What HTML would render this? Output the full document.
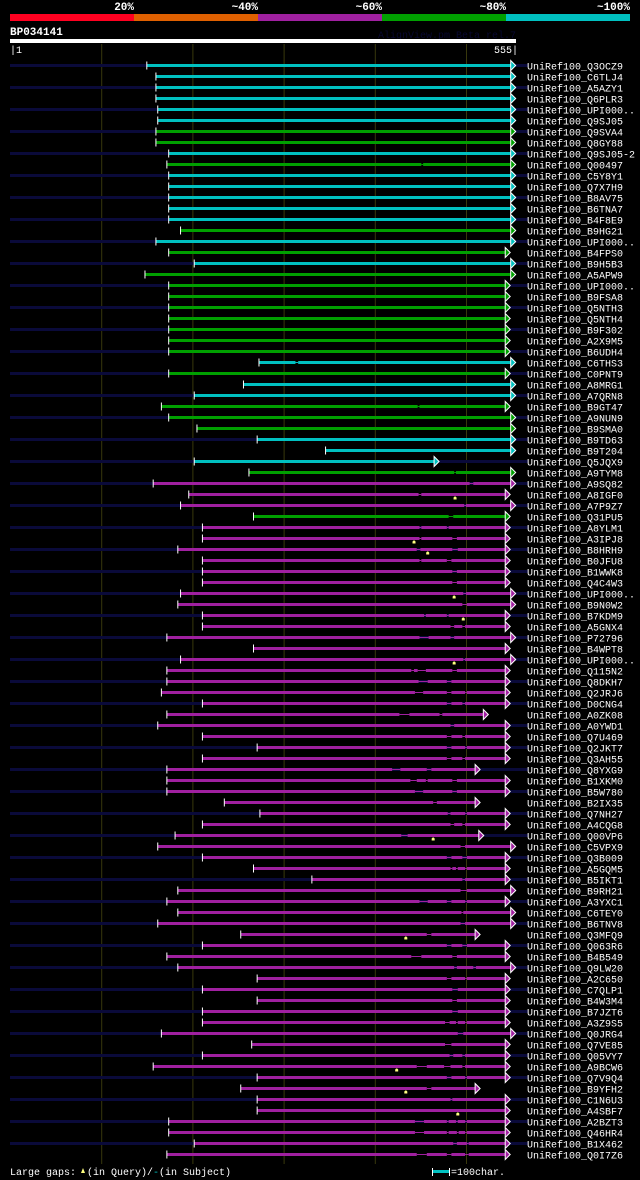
<!DOCTYPE html>
<html><head><meta charset="utf-8">
<style>
html,body{margin:0;padding:0;background:#000;}
svg{display:block;}
text{font-family:"Liberation Mono","DejaVu Sans Mono",monospace;}
</style></head>
<body>
<svg id="chart" width="640" height="1180" viewBox="0 0 640 1180" xmlns="http://www.w3.org/2000/svg">
<rect x="0" y="0" width="640" height="1180" fill="#000"/>
<g>
<rect x="10" y="14" width="124" height="7" fill="#ff0020"/>
<rect x="134" y="14" width="124" height="7" fill="#e06000"/>
<rect x="258" y="14" width="124" height="7" fill="#a020a0"/>
<rect x="382" y="14" width="124" height="7" fill="#00a000"/>
<rect x="506" y="14" width="124" height="7" fill="#00c0c0"/>
<g font-size="11" font-weight="bold" fill="#fff" text-anchor="end">
<text x="134" y="10">20%</text>
<text x="258" y="10">~40%</text>
<text x="382" y="10">~60%</text>
<text x="506" y="10">~80%</text>
<text x="630" y="10">~100%</text>
</g>
</g>
<text x="10" y="35" font-size="11" font-weight="bold" fill="#fff">BP034141</text>
<text x="516" y="38" font-size="10" fill="#080830" text-anchor="end">AlignView.pm Beta rel.7</text>
<rect x="10" y="39" width="506" height="4" fill="#fff"/>
<text x="10" y="53" font-size="10" fill="#fff">|1</text>
<text x="518" y="53" font-size="10" fill="#fff" text-anchor="end">555|</text>
<g id="grid"></g>
<g id="rows"></g>
<g>
<text x="10" y="1175" font-size="10" fill="#fff">Large gaps:</text>
<path d="M81 1173 L83 1168 L85 1173 Z" fill="#ffff80"/>
<text x="87" y="1175" font-size="10" fill="#fff">(in Query)/</text>
<text x="153" y="1175" font-size="10" fill="#00c0c0">-</text>
<text x="159" y="1175" font-size="10" fill="#fff"> (in Subject)</text>
<rect x="432" y="1168" width="1" height="8" fill="#fff"/>
<rect x="433" y="1170" width="16" height="3" fill="#00c0c0"/>
<rect x="449" y="1168" width="1" height="8" fill="#fff"/>
<text x="451" y="1175" font-size="10" fill="#fff">=100char.</text>
</g>
</svg>
<script>
const names = ["Q3OCZ9","C6TLJ4","A5AZY1","Q6PLR3","UPI000..","Q9SJ05","Q9SVA4","Q8GY88","Q9SJ05-2","Q00497","C5Y8Y1","Q7X7H9","B8AV75","B6TNA7","B4F8E9","B9HG21","UPI000..","B4FPS0","B9H5B3","A5APW9","UPI000..","B9FSA8","Q5NTH3","Q5NTH4","B9F302","A2X9M5","B6UDH4","C6THS3","C0PNT9","A8MRG1","A7QRN8","B9GT47","A9NUN9","B9SMA0","B9TD63","B9T204","Q5JQX9","A9TYM8","A9SQ82","A8IGF0","A7P9Z7","Q31PU5","A8YLM1","A3IPJ8","B8HRH9","B0JFU8","B1WWK8","Q4C4W3","UPI000..","B9N0W2","B7KDM9","A5GNX4","P72796","B4WPT8","UPI000..","Q115N2","Q8DKH7","Q2JRJ6","D0CNG4","A0ZK08","A0YWD1","Q7U469","Q2JKT7","Q3AH55","Q8YXG9","B1XKM0","B5W780","B2IX35","Q7NH27","A4CQG8","Q00VP6","C5VPX9","Q3B009","A5GQM5","B5IKT1","B9RH21","A3YXC1","C6TEY0","B6TNV8","Q3MFQ9","Q063R6","B4B549","Q9LW20","A2C650","C7QLP1","B4W3M4","B7JZT6","A3Z9S5","Q0JRG4","Q7VE85","Q05VY7","A9BCW6","Q7V9Q4","B9YFH2","C1N6U3","A4SBF7","A2BZT3","Q46HR4","B1X462","Q0I7Z6"];
const starts = [150,160,160,160,162,162,160,160,174,172,174,174,174,174,174,187,160,174,202,148,174,174,174,174,174,174,174,273,174,256,202,166,174,205,271,346,202,262,157,196,187,267,211,211,184,211,211,211,187,184,211,211,172,267,187,172,172,166,211,172,162,211,271,211,172,172,172,235,274,211,181,162,211,267,331,184,172,184,162,253,211,172,184,271,211,271,211,211,166,265,211,157,271,253,271,271,174,174,202,172];
const ends = [549,549,549,549,549,549,549,549,549,549,549,549,549,549,549,549,549,543,549,549,543,543,543,543,543,543,543,549,543,549,549,543,549,549,549,549,465,549,549,543,549,543,543,543,543,543,543,543,549,549,543,543,549,543,549,543,543,543,543,519,543,543,543,543,510,543,543,510,543,543,514,549,543,543,543,549,543,549,549,510,543,543,549,543,543,543,543,543,549,543,543,543,543,510,543,543,543,543,543,543];
const identity = ["c","c","c","c","c","c","g","g","c","g","c","c","c","c","c","g","c","g","c","g","g","g","g","g","g","g","g","c","g","c","c","g","g","g","c","c","c","g","m","m","m","g","m","m","m","m","m","m","m","m","m","m","m","m","m","m","m","m","m","m","m","m","m","m","m","m","m","m","m","m","m","m","m","m","m","m","m","m","m","m","m","m","m","m","m","m","m","m","m","m","m","m","m","m","m","m","m","m","m","m"];
const gaps = {10:[[451,453]],28:[[313,316]],32:[[447,449]],38:[[487,489]],39:[[504,508]],40:[[448,451]],41:[[498,500]],42:[[481,486]],43:[[449,451],[479,481]],44:[[449,451],[485,490]],45:[[446,450],[485,491]],46:[[449,451],[479,484]],47:[[485,490]],48:[[485,490]],49:[[497,500]],50:[[496,501]],51:[[454,456],[479,481]],52:[[483,487],[496,499]],53:[[449,459],[483,487]],55:[[497,499]],56:[[440,443],[447,456],[485,490]],57:[[448,458],[479,484]],58:[[444,453],[479,484],[499,501]],59:[[479,484],[496,499]],60:[[427,438],[471,474]],61:[[483,487]],62:[[479,484],[496,499]],63:[[479,484],[499,501]],64:[[479,484],[496,499]],65:[[419,428],[457,462]],66:[[439,446],[456,458],[485,490]],67:[[444,453],[485,490]],68:[[464,468]],69:[[480,483],[499,501]],70:[[483,487],[496,499]],71:[[429,436]],72:[[494,499]],73:[[479,484],[496,501]],74:[[483,485],[489,491],[499,501]],75:[[496,499]],76:[[494,501]],77:[[449,458],[479,484],[499,501]],78:[[495,497]],79:[[494,499]],80:[[457,462]],81:[[479,484],[496,501]],82:[[440,451],[485,490]],83:[[487,490],[508,511]],84:[[479,484],[499,501]],85:[[485,491]],86:[[485,490]],87:[[485,491]],88:[[477,482],[489,491],[499,501]],89:[[491,497]],90:[[477,484]],91:[[482,486],[496,499]],92:[[446,457],[476,483],[496,499]],93:[[479,484],[499,501]],94:[[457,462]],95:[[483,485]],97:[[444,454],[479,481],[489,491],[499,501]],98:[[444,454],[479,481],[490,492],[499,501]],99:[[486,490],[501,503]],100:[[446,457],[479,484],[499,503]]};
const queryGaps = {40:488,44:443,45:458,49:487,51:497,55:487,71:464,80:434,92:424,94:434,96:491};
const gridTicks = [100,200,300,400,500];

const X0 = 10, SCALE = 0.912, Y0 = 65.5, ROWH = 11;
const colorMap = {c:"#00c0c0", g:"#00a000", m:"#a020a0"};
function xs(r){ return X0 + r*SCALE; }
function ys(i){ return Y0 + i*ROWH; }
const NS = "http://www.w3.org/2000/svg";
function mk(tag, attrs, parent){
  const e = document.createElementNS(NS, tag);
  for (const k in attrs) e.setAttribute(k, attrs[k]);
  parent.appendChild(e);
  return e;
}
const grid = document.getElementById('grid');
gridTicks.forEach(t => {
  const l = mk('rect', {x: xs(t), y: 44, width: 1, height: 1120, fill: '#38380c'}, grid);
  
  
});
const rows = document.getElementById('rows');
names.forEach((nm, i) => {
  const y = ys(i);
  const g = mk('g', {}, rows);
  
  
  if (i % 2 === 0) {
    const bg = mk('rect', {x: 10, y: y - 1.5, width: 518, height: 3, fill: '#0a0a3a'}, g);
    
    
  }
  const col = colorMap[identity[i]];
  const s = starts[i], e = ends[i];
  const gp = gaps[i + 1] || [];
  let cur = s;
  const segs = [];
  gp.forEach(([a, b]) => { segs.push([cur, a]); cur = b; });
  segs.push([cur, e]);
  segs.forEach(([a, b]) => {
    const r = mk('rect', {x: xs(a), y: y - 1.5, width: Math.max(0, xs(b) - xs(a)), height: 3, fill: col}, g);
    
    
  });
  gp.forEach(([a, b]) => {
    const r = mk('rect', {x: xs(a), y: y - 0.5, width: xs(b) - xs(a), height: 1, fill: col}, g);
    
    
  });
  const st = mk('rect', {x: xs(s) - 0.5, y: y - 4, width: 1, height: 8, fill: '#fff'}, g);
  
  
  const ex = xs(e);
  const ar = mk('path', {d: `M${ex} ${y-5} L${ex+5} ${y} L${ex} ${y+5} Z`, fill: col, stroke: '#fff', 'stroke-width': 1}, g);
  
  
  if (queryGaps[i + 1] !== undefined) {
    const qx = xs(queryGaps[i + 1]);
    const q = mk('path', {d: `M${qx-1.5} ${y+5} L${qx-1.5} ${y+3} L${qx-0.5} ${y+2} L${qx+0.5} ${y+2} L${qx+1.5} ${y+3} L${qx+1.5} ${y+5} Z`, fill: '#ffff80'}, g);
    
    
  }
  const t = mk('text', {x: 527, y: y + 4, 'font-size': 10, fill: '#fff'}, g);
  t.textContent = 'UniRef100_' + nm;
  
  
});
</script>
</body></html>
